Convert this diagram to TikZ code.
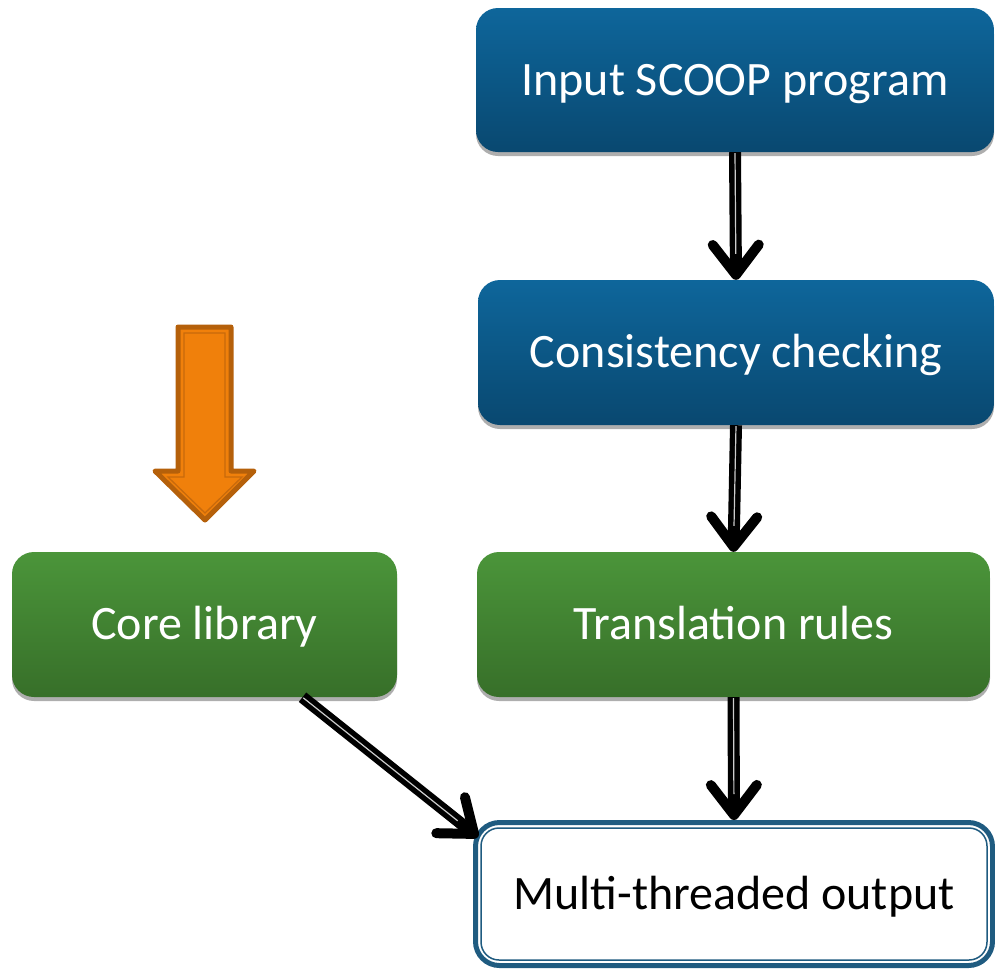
\documentclass[tikz,border=0pt]{standalone}
\usepackage{fontspec}
\setmainfont{Carlito}
\usetikzlibrary{arrows.meta,shadows,calc}
\definecolor{bluetop}{HTML}{0E669B}
\definecolor{bluebot}{HTML}{094870}
\definecolor{greentop}{HTML}{4B953A}
\definecolor{greenbot}{HTML}{376F29}
\definecolor{outblue}{HTML}{1F5B80}
\definecolor{orfill}{HTML}{F0800B}
\definecolor{ordark}{HTML}{B5600A}
\definecolor{orline}{HTML}{C86A0C}
\tikzset{
  box/.style={rounded corners=22pt, text=white, align=center,
    font=\fontsize{48}{58}\selectfont, inner sep=0pt, text height=40pt, text depth=10pt,
    drop shadow={shadow xshift=0pt, shadow yshift=-4pt, opacity=0.45, fill=black!70}},
  bluebox/.style={box, top color=bluetop, bottom color=bluebot},
  greenbox/.style={box, top color=greentop, bottom color=greenbot},
  outbox/.style={rounded corners=24pt, draw=outblue, line width=5pt, fill=white,
    font=\fontsize{48}{58}\selectfont, text=black, inner sep=0pt, text height=40pt, text depth=10pt},
  conn/.style={draw=black, line width=12pt,
    -{Straight Barb[length=30pt, width=46pt, line width=10pt, round]}},
  hilite/.style={draw=black!20, line width=1.2pt, shorten >=26pt, shorten <=1pt}
}
\begin{document}
\begin{tikzpicture}[x=1pt,y=-1pt]
\useasboundingbox (0,0) rectangle (995,970);
% nodes
\node[bluebox, minimum width=518pt, minimum height=144pt] (input) at (735,80) {Input SCOOP program};
\node[bluebox, minimum width=516pt, minimum height=145pt] (cons) at (736,352.5) {Consistency checking};
\node[greenbox, minimum width=513pt, minimum height=145pt] (trans) at (733.5,624.5) {Translation rules};
\node[greenbox, minimum width=385pt, minimum height=145pt] (core) at (204.5,624.5) {Core library};
\node[outbox, minimum width=517pt, minimum height=143pt] (out) at (734,894) {Multi-threaded output};
\draw[outblue, line width=1.5pt, rounded corners=18pt]
  ($(out.south west)+(8pt,8pt)$) rectangle ($(out.north east)+(-8pt,-8pt)$);
% connectors
\coordinate (cs) at ($(core.south)+(98,0)$);
\coordinate (oe) at ($(out.north west)+(5,17)$);
\draw[conn] (input.south) -- (cons.north);
\draw[hilite, xshift=-2pt] (input.south) -- (cons.north);
\draw[conn] (cons.south) -- (trans.north);
\draw[hilite, xshift=-2pt] (cons.south) -- (trans.north);
\draw[conn] (trans.south) -- (out.north);
\draw[hilite, xshift=-2pt] (trans.south) -- (out.north);
\draw[conn] (cs) -- (oe);
\draw[hilite, xshift=-1.6pt, yshift=-2pt] (cs) -- (oe);
% orange block arrow
\draw[fill=orfill, draw=ordark, line width=5pt, line join=round]
  (178,327) -- (231,327) -- (231,471) -- (254,471) -- (205,520) -- (155,471) -- (178,471) -- cycle;
\draw[draw=orline, line width=1.3pt, line join=miter]
  (184,333) -- (225,333) -- (225,477) -- (242,477) -- (205,513) -- (168,477) -- (184,477) -- cycle;
\end{tikzpicture}
\end{document}
